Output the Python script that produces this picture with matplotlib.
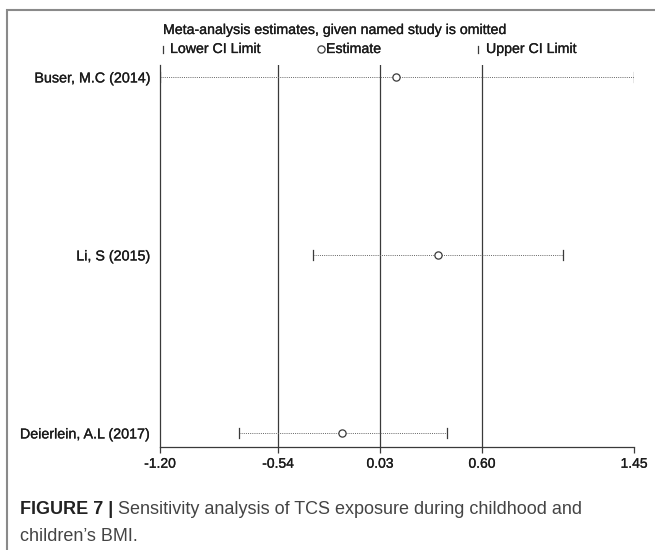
import matplotlib.pyplot as plt
import matplotlib.patheffects as pe
from matplotlib.patches import Rectangle
from matplotlib.lines import Line2D

# --------------------------------------------------
# DATA
# --------------------------------------------------
studies = ["Buser, M.C (2014)", "Li, S (2015)", "Deierlein, A.L (2017)"]
estimate = [0.12, 0.354, -0.183]
lower = [-1.20, -0.345, -0.758]
upper = [1.45, 1.053, 0.404]
ref_lines = [-0.54, 0.03, 0.60]
xticks = [-1.20, -0.54, 0.03, 0.60, 1.45]

plt.rcParams["font.family"] = ["Liberation Sans", "DejaVu Sans"]

W, H = 655, 550
fig = plt.figure(figsize=(6.55, 5.5), dpi=100)
ax = fig.add_axes([160 / W, 1 - 447 / H, (634 - 160) / W, (447 - 65) / H])

ypos = list(range(len(studies)))[::-1]
dark = "#3a3a3a"
# slightly heavier text, like the exported graph
heavy = [pe.withStroke(linewidth=0.2, foreground="#1a1a1a")]

# --------------------------------------------------
# REFERENCE LINES
# --------------------------------------------------
for v in ref_lines:
    ax.axvline(v, color=dark, linewidth=0.9, zorder=1)

# --------------------------------------------------
# CI + ESTIMATES
# --------------------------------------------------
for y, est, lo, hi in zip(ypos, estimate, lower, upper):
    ax.plot([lo, hi], [y, y], linestyle=(0, (1, 1.2)), color="#666666", linewidth=0.7, zorder=2)
    ax.plot([lo, lo], [y - 0.028, y + 0.028], color=dark, linewidth=0.9, zorder=3)
    ax.plot([hi, hi], [y - 0.028, y + 0.028], color=dark, linewidth=0.9, zorder=3)
    ax.plot(est, y, marker="o", markersize=5.2, markerfacecolor="white",
            markeredgecolor=dark, markeredgewidth=0.9, zorder=4)

ax.set_xlim(-1.20, 1.45)
ax.set_ylim(-0.079, 2.067)

ax.set_xticks(xticks)
ax.set_xticklabels([f"{t:.2f}" for t in xticks], fontsize=10, color="#1a1a1a")
ax.tick_params(axis="x", direction="out", length=4.5, width=0.9, color=dark, pad=2.5)
ax.set_yticks(ypos)
ax.set_yticklabels(studies, fontsize=10.3, color="#1a1a1a")
ax.tick_params(axis="y", length=0, pad=7)
for lab in ax.get_xticklabels() + ax.get_yticklabels():
    lab.set_path_effects(heavy)

for s in ["top", "right"]:
    ax.spines[s].set_visible(False)
for s in ["left", "bottom"]:
    ax.spines[s].set_linewidth(0.9)
    ax.spines[s].set_color(dark)

# --------------------------------------------------
# LEGEND TEXT
# --------------------------------------------------
fs = 10.2
fig.text(163 / W, 1 - 30 / H, "Meta-analysis estimates, given named study is omitted",
         fontsize=fs, va="center", ha="left", color="#1a1a1a", path_effects=heavy)

leg_y = 1 - 49 / H
for bx in [163, 478]:
    fig.lines.append(Line2D([bx / W, bx / W], [leg_y - 3.5 / H, leg_y + 3.5 / H],
                            transform=fig.transFigure, color=dark, linewidth=0.9))
fig.lines.append(Line2D([321 / W], [leg_y], transform=fig.transFigure, marker="o",
                        markersize=5.2, markerfacecolor="white", markeredgecolor=dark,
                        markeredgewidth=0.9))
for tx, txt in [(170, "Lower CI Limit"), (326, "Estimate"), (486, "Upper CI Limit")]:
    fig.text(tx / W, leg_y, txt, fontsize=fs, va="center", ha="left",
             color="#1a1a1a", path_effects=heavy)

# --------------------------------------------------
# CAPTION + FRAME
# --------------------------------------------------
cap = fig.text(20 / W, 1 - 518 / H, "FIGURE 7 |", fontsize=13, fontweight="bold",
               va="bottom", ha="left", color="#222222")
ax.annotate(" Sensitivity analysis of TCS exposure during childhood and",
            xy=(1, 0), xycoords=cap, va="bottom", ha="left",
            fontsize=13, color="#444444", annotation_clip=False)
fig.text(20 / W, 1 - 545 / H, "children\u2019s BMI.",
         fontsize=13, va="bottom", ha="left", color="#444444")

fig.patches.append(Rectangle((7 / W, -0.1), 1.2, 1 - 10 / H + 0.1, transform=fig.transFigure,
                             fill=False, edgecolor="#8a8a8a", linewidth=1.5))

fig.savefig("out.png", dpi=100)
